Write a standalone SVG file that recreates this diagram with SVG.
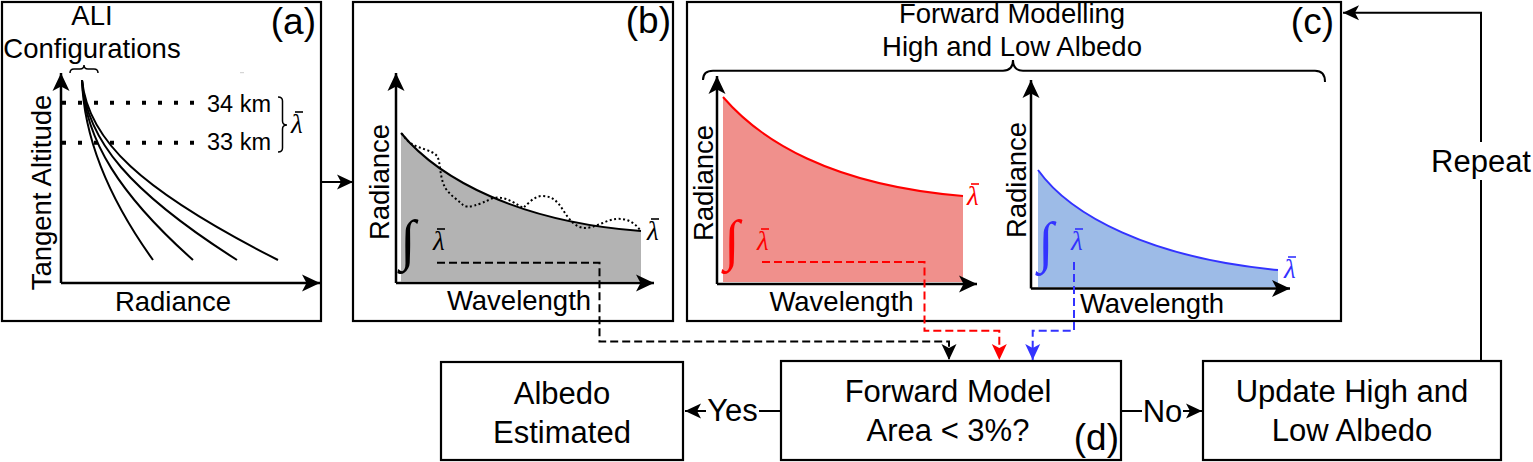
<svg xmlns="http://www.w3.org/2000/svg" width="1533" height="462" viewBox="0 0 1533 462">
<defs>
<style>
text{font-family:"Liberation Sans",Arial,sans-serif;fill:#000}
.lbl{font-size:27.5px}
.mid{text-anchor:middle}
.box{font-size:31px;text-anchor:middle}
.tag{font-size:37px;text-anchor:end}
.frame{fill:#fff;stroke:#000;stroke-width:2.2}
.ax{fill:none;stroke:#000;stroke-width:2.5}
.crv{fill:none;stroke-width:2}
.math{font-family:"Liberation Serif","DejaVu Serif",serif;font-style:italic;font-size:27px}
.int{font-family:"Liberation Serif","DejaVu Serif",serif;font-style:italic;font-size:56px}
.dash{fill:none;stroke-width:2;stroke-dasharray:8 4}
.conn{fill:none;stroke:#000;stroke-width:2}
.bar{stroke-width:1.6}
.red{fill:#ff0000}
.blue{fill:#3333ff}
</style>
<marker id="axh" viewBox="0 0 18 18" refX="18" refY="9" markerWidth="18" markerHeight="18" markerUnits="userSpaceOnUse" orient="auto"><path d="M0,0.5 L18,9 L0,17.5 L4.5,9 Z" fill="#000"/></marker>
<marker id="ah" viewBox="0 0 16 16" refX="16" refY="8" markerWidth="16" markerHeight="16" markerUnits="userSpaceOnUse" orient="auto"><path d="M0,0.5 L16,8 L0,15.5 L4,8 Z" fill="#000"/></marker>
<marker id="ahr" viewBox="0 0 16 16" refX="16" refY="8" markerWidth="16" markerHeight="16" markerUnits="userSpaceOnUse" orient="auto"><path d="M0,0.5 L16,8 L0,15.5 L4,8 Z" fill="#ff0000"/></marker>
<marker id="ahb" viewBox="0 0 16 16" refX="16" refY="8" markerWidth="16" markerHeight="16" markerUnits="userSpaceOnUse" orient="auto"><path d="M0,0.5 L16,8 L0,15.5 L4,8 Z" fill="#3333ff"/></marker>
</defs>

<g id="panel-a">
<rect class="frame" x="2" y="2" width="319" height="319"/>
<text class="lbl mid" x="92" y="25">ALI</text>
<text class="lbl mid" x="92" y="58">Configurations</text>
<path d="M70,73 Q70,69 74,69 L80,69 Q84,69 84,65 Q84,69 88,69 L94,69 Q98,69 98,73" fill="none" stroke="#000" stroke-width="1.5"/>
<line x1="240" y1="72.7" x2="244" y2="72.7" stroke="#ccc" stroke-width="1"/>
<line class="ax" x1="61" y1="283" x2="61" y2="73" marker-end="url(#axh)"/>
<line class="ax" x1="61" y1="283" x2="320" y2="283" marker-end="url(#axh)"/>
<path class="crv" stroke="#000" d="M82,80 C84,140 110,200 153,260"/>
<path class="crv" stroke="#000" d="M82,80 C85,140 120,195 193,260"/>
<path class="crv" stroke="#000" d="M82,80 C86,140 130,192 237,260"/>
<path class="crv" stroke="#000" d="M82,80 C88,140 140,190 278,260"/>
<line x1="62" y1="102.7" x2="196" y2="102.7" stroke="#000" stroke-width="4" stroke-dasharray="4 12"/>
<line x1="62" y1="142.7" x2="196" y2="142.7" stroke="#000" stroke-width="4" stroke-dasharray="4 12"/>
<text x="207" y="111.5" style="font-size:23.5px">34 km</text>
<text x="207" y="150" style="font-size:23.5px">33 km</text>
<path d="M278,97 Q282.5,97 282.5,101 L282.5,121 Q282.5,125 287,125 Q282.5,125 282.5,129 L282.5,148 Q282.5,152 278,152" fill="none" stroke="#000" stroke-width="1.5"/>
<text class="math" x="291" y="133">λ</text>
<line class="bar" stroke="#000" x1="295" y1="112" x2="303" y2="112"/>
<text class="lbl mid" transform="translate(51,192.5) rotate(-90)">Tangent Altitude</text>
<text class="lbl mid" x="173" y="310.7">Radiance</text>
<text class="tag" x="316" y="34">(a)</text>
</g>

<g id="panel-b">
<rect class="frame" x="353" y="2" width="320" height="319"/>
<path d="M401,133 C440,180 520,222 641,231 L641,281.5 L401,281.5 Z" fill="#b3b3b3"/>
<path class="crv" stroke="#000" d="M401,133 C440,180 520,222 641,231"/>
<path fill="none" stroke="#000" stroke-width="2" stroke-dasharray="2 2.5" d="M401.7,133.3 C405,138 408,142 412,144 C420,149 432,150 437,156 C441,162 439,178 446,189 C451,196 458,200 463,205 C468,209 478,205 493,198 C503,196 512,201 523,208 C528,204 534,196 542,196 C551,196 557,200 563,210 C568,218 575,228 585,228 C595,228 606,220 616,219 C626,218 634,222 640,230"/>
<line class="ax" x1="396" y1="283" x2="396" y2="73" marker-end="url(#axh)"/>
<line class="ax" x1="396" y1="283" x2="654" y2="283" marker-end="url(#axh)"/>
<text class="int" x="400" y="259">∫</text>
<text class="math" x="433" y="250">λ</text>
<line class="bar" stroke="#000" x1="437" y1="229" x2="445" y2="229"/>
<text class="math" x="647" y="240">λ</text>
<line class="bar" stroke="#000" x1="651" y1="219" x2="659" y2="219"/>
<text class="lbl mid" transform="translate(389,182) rotate(-90)">Radiance</text>
<text class="lbl mid" x="519" y="310">Wavelength</text>
<text class="tag" x="671" y="33">(b)</text>
</g>

<g id="panel-c">
<rect class="frame" x="687" y="2" width="654" height="319"/>
<text class="lbl mid" x="1012" y="23">Forward Modelling</text>
<text class="lbl mid" x="1012" y="55.5">High and Low Albedo</text>
<path d="M703,80 Q703,70.7 713,70.7 L1003,70.7 Q1013,70.7 1013,60 Q1013,70.7 1023,70.7 L1315,70.7 Q1325,70.7 1325,82" fill="none" stroke="#000" stroke-width="2"/>
<path d="M723,97 C760,140 830,185 963,196 L963,282 L723,282 Z" fill="#f0908c"/>
<path class="crv" stroke="#ff0000" d="M723,97 C760,140 830,185 963,196"/>
<line class="ax" x1="717" y1="284" x2="717" y2="76" marker-end="url(#axh)"/>
<line class="ax" x1="717" y1="284" x2="977" y2="284" marker-end="url(#axh)"/>
<text class="int red" x="724" y="259">∫</text>
<text class="math red" x="757" y="250">λ</text>
<line class="bar" stroke="#ff0000" x1="761" y1="229" x2="769" y2="229"/>
<text class="math red" x="967" y="205">λ</text>
<line class="bar" stroke="#ff0000" x1="971" y1="184" x2="979" y2="184"/>
<text class="lbl mid" transform="translate(713,183) rotate(-90)">Radiance</text>
<text class="lbl mid" x="841.5" y="311">Wavelength</text>
<path d="M1038,170 C1070,215 1150,258 1278,270 L1278,287 L1038,287 Z" fill="#9dbbe7"/>
<path class="crv" stroke="#3333ff" d="M1038,170 C1070,215 1150,258 1278,270"/>
<line class="ax" x1="1031" y1="288.5" x2="1031" y2="80" marker-end="url(#axh)"/>
<line class="ax" x1="1031" y1="288.5" x2="1290" y2="288.5" marker-end="url(#axh)"/>
<text class="int blue" x="1038" y="261">∫</text>
<text class="math blue" x="1071" y="250">λ</text>
<line class="bar" stroke="#3333ff" x1="1075" y1="229" x2="1083" y2="229"/>
<text class="math blue" x="1284" y="278">λ</text>
<line class="bar" stroke="#3333ff" x1="1288" y1="257" x2="1296" y2="257"/>
<text class="lbl mid" transform="translate(1026,180) rotate(-90)">Radiance</text>
<text class="lbl mid" x="1152" y="313">Wavelength</text>
<text class="tag" x="1334" y="34">(c)</text>
</g>

<g id="albedo-estimated">
<rect class="frame" x="441" y="362" width="242" height="98"/>
<text class="box" x="562" y="404">Albedo</text>
<text class="box" x="562" y="443">Estimated</text>
</g>

<g id="forward-model">
<rect class="frame" x="781" y="361" width="340" height="99"/>
<text class="box" x="948" y="401.7">Forward Model</text>
<text class="box" x="948" y="440.7">Area &lt; 3%?</text>
<text class="tag" x="1119" y="450">(d)</text>
</g>

<g id="update-albedo">
<rect class="frame" x="1203" y="361" width="298" height="99"/>
<text class="box" x="1352" y="401.7">Update High and</text>
<text class="box" x="1352" y="440.5">Low Albedo</text>
</g>

<g id="connectors">
<line class="conn" x1="322" y1="182" x2="353" y2="182" marker-end="url(#ah)"/>
<path class="dash" stroke="#000" d="M437,262.7 L599.5,262.7 L599.5,341.5 L949,341.5 L949,360" marker-end="url(#ah)"/>
<path class="dash" stroke="#ff0000" d="M762,262 L924.5,262 L924.5,330.7 L999.3,330.7 L999.3,360" marker-end="url(#ahr)"/>
<path class="dash" stroke="#3333ff" d="M1074,262 L1074,330.7 L1032.7,330.7 L1032.7,360" marker-end="url(#ahb)"/>
<line class="conn" x1="781" y1="411" x2="685" y2="411" marker-end="url(#ah)"/>
<rect x="706" y="392" width="53" height="36" fill="#fff"/>
<text class="box" x="732.5" y="421">Yes</text>
<line class="conn" x1="1121" y1="411" x2="1202" y2="411" marker-end="url(#ah)"/>
<rect x="1142" y="392" width="41" height="36" fill="#fff"/>
<text class="box" x="1162.5" y="421.5">No</text>
<path class="conn" d="M1481,361 L1481,12.7 L1343,12.7" marker-end="url(#ah)"/>
<rect x="1430" y="142" width="102" height="38" fill="#fff"/>
<text class="box" x="1481" y="171.7">Repeat</text>
</g>
</svg>
